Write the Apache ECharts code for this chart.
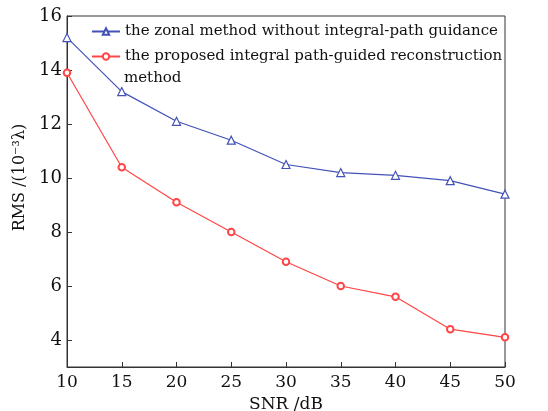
<!DOCTYPE html>
<html>
<head>
<meta charset="utf-8">
<script src="https://cdn.jsdelivr.net/npm/echarts@6/dist/echarts.min.js"></script>
<style>
html,body{margin:0;padding:0;background:#fff;}
#chart{width:548px;height:411px;}
</style>
</head>
<body>
<div id="chart"></div>
<script>
var snr = [10, 15, 20, 25, 30, 35, 40, 45, 50];
var zonal = [15.2, 13.2, 12.1, 11.4, 10.5, 10.2, 10.1, 9.9, 9.4];
var proposed = [13.9, 10.4, 9.1, 8.0, 6.9, 6.0, 5.6, 4.4, 4.1];
var yTicks = [4, 6, 8, 10, 12, 14, 16];
var names = ['the zonal method without integral-path guidance',
	'the proposed integral path-guided reconstruction'];

var serif = '"DejaVu Serif", "Liberation Serif", serif';
var blue = '#4352b8', red = '#ff4545';

function pairs(xs, ys){
	return xs.map(function(x, i){ return [x, ys[i]]; });
}

var myChart = echarts.init(document.getElementById('chart'));
var option = {
	animation: false,
	backgroundColor: '#fff',
	grid: {left: 67, right: 43, top: 16, bottom: 44, outerBoundsMode: 'none',
		show: true, borderColor: '#333', borderWidth: 1},
	legend: {
		left: 91, top: 24, orient: 'vertical', itemGap: 10,
		itemWidth: 28, itemHeight: 8, padding: 0,
		textStyle: {fontFamily: serif, fontSize: 15, color: '#111'},
		data: names
	},
	// second line of the red legend entry
	graphic: [{
		type: 'text', left: 124, top: 71,
		style: {text: 'method', font: '15px ' + serif, fill: '#111'}
	}],
	xAxis: {
		type: 'value', min: 10, max: 50, interval: 5,
		name: 'SNR /dB', nameLocation: 'middle', nameGap: 26,
		nameTextStyle: {fontFamily: serif, fontSize: 17, color: '#111'},
		axisLine: {lineStyle: {color: '#333'}},
		axisTick: {inside: true, length: 5, lineStyle: {color: '#333'}},
		axisLabel: {fontFamily: serif, fontSize: 17, color: '#111', margin: 7},
		splitLine: {show: false}
	},
	yAxis: {
		type: 'value', min: 3, max: 16,
		name: 'RMS /(10\u207B\u00B3\u03BB)', nameLocation: 'middle', nameGap: 32,
		nameTextStyle: {fontFamily: serif, fontSize: 16, color: '#111', padding: [0, 0, 0, 28]},
		axisLine: {lineStyle: {color: '#333'}},
		axisTick: {inside: true, length: 5, customValues: yTicks, lineStyle: {color: '#333'}},
		axisLabel: {fontFamily: serif, fontSize: 18, color: '#111', margin: 5, customValues: yTicks},
		splitLine: {show: false}
	},
	series: [
		{
			name: names[0], type: 'line', data: pairs(snr, zonal),
			symbol: 'triangle', symbolSize: 8,
			itemStyle: {color: '#fff', borderColor: blue, borderWidth: 1.2},
			lineStyle: {color: blue, width: 1.2}
		},
		{
			name: names[1], type: 'line', data: pairs(snr, proposed),
			symbol: 'emptyCircle', symbolSize: 6.5,
			itemStyle: {color: red, borderColor: red, borderWidth: 1.2},
			lineStyle: {color: red, width: 1.2}
		}
	]
};
myChart.setOption(option);
</script>
</body>
</html>
